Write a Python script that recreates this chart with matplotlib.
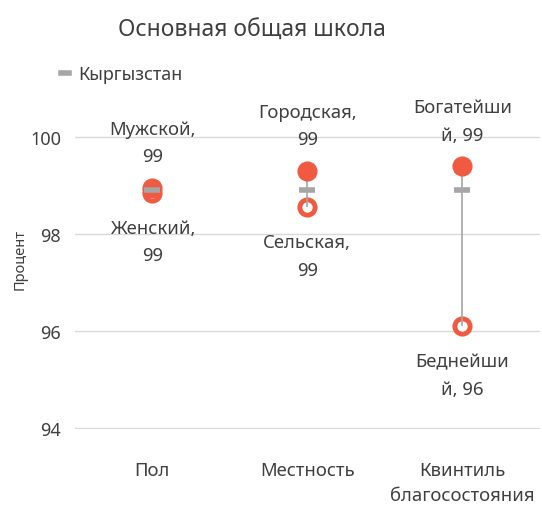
import numpy as np
import matplotlib.pyplot as plt
from matplotlib.lines import Line2D

plt.rcParams['font.family'] = ['Noto Sans', 'DejaVu Sans']

# основная общая школа: группы с высоким и низким значением + среднее по стране
categories = ["Пол", "Местность", "Квинтиль\nблагосостояния"]
high_values = [98.95, 99.3, 99.4]
low_values = [98.85, 98.55, 96.1]
national = [98.9, 98.9, 98.9]
high_labels = ["Мужской,\n99", "Городская,\n99", "Богатейши\nй, 99"]
low_labels = ["Женский,\n99", "Сельская,\n99", "Беднейши\nй, 96"]

red = '#F05A40'
grey = '#A6A6A6'
txt = '#404040'

fig = plt.figure(figsize=(5.42, 5.06), dpi=100)
ax = fig.add_axes([0.138, 0.150, 0.858, 0.674])

x = np.arange(len(categories))

ax.plot(x, low_values, 'o', ms=11, mfc='white', mec=red, mew=3.5, ls='none', zorder=3)
ax.vlines(x, low_values, high_values, color=grey, lw=1.2, zorder=4)
ax.plot(x, high_values, 'o', ms=13.5, color=red, ls='none', zorder=5)
ax.plot(x, national, '_', ms=12, mew=4, color=grey, ls='none', zorder=6)

for xi, v, lab in zip(x, high_values, high_labels):
    ax.annotate(lab, (xi, v), xytext=(0, 16), textcoords='offset points',
                ha='center', va='bottom', fontsize=13.3, color=txt, linespacing=1.68)
for xi, v, lab in zip(x, low_values, low_labels):
    ax.annotate(lab, (xi, v), xytext=(0, -19), textcoords='offset points',
                ha='center', va='top', fontsize=13.3, color=txt, linespacing=1.68)

ax.set_xlim(-0.5, 2.5)
ax.set_ylim(93.98, 101)
ax.set_yticks([94, 96, 98, 100])
ax.set_xticks(x)
ax.set_xticklabels(categories, fontsize=13.3, color=txt, linespacing=1.5)
ax.tick_params(axis='y', labelsize=13, colors=txt, length=0, pad=10)
ax.tick_params(axis='x', length=0, pad=23)
ax.grid(axis='y', color='#D9D9D9', lw=1)
ax.set_axisbelow(True)
for s in ax.spines.values():
    s.set_visible(False)
ax.set_ylabel("Процент", fontsize=10.5, color=txt, labelpad=2)

fig.text(0.465, 0.94, "Основная общая школа", ha='center', va='center',
         fontsize=16.5, color='#3F3F3F')

handle = Line2D([], [], color=grey, lw=4)
fig.legend([handle], ["Кыргызстан"], loc='center left', bbox_to_anchor=(0.083, 0.852),
           frameon=False, fontsize=13, handlelength=0.45, handletextpad=0.5,
           labelcolor=txt)

fig.savefig('out.png', dpi=100)
